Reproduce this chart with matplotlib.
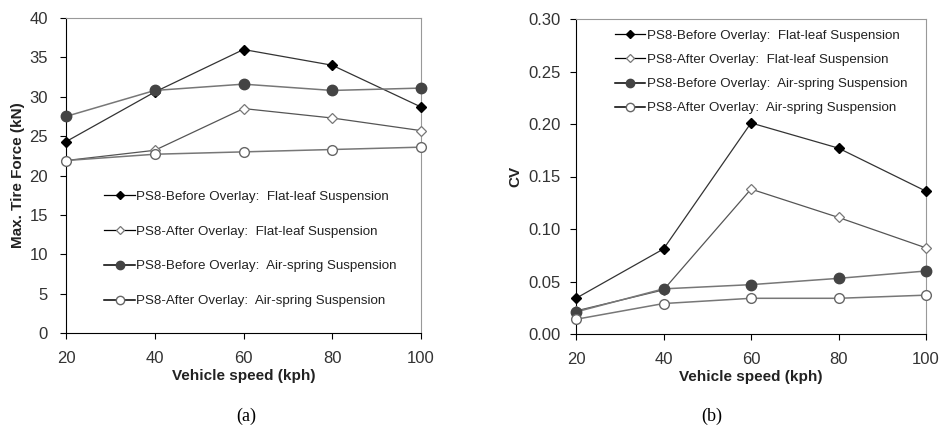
import matplotlib
matplotlib.use("Agg")
import matplotlib.pyplot as plt

plt.rcParams['font.family'] = ['Liberation Sans', 'DejaVu Sans']

speeds = [20, 40, 60, 80, 100]
labels = ["PS8-Before Overlay:  Flat-leaf Suspension",
          "PS8-After Overlay:  Flat-leaf Suspension",
          "PS8-Before Overlay:  Air-spring Suspension",
          "PS8-After Overlay:  Air-spring Suspension"]

force_flat_before = [24.3, 30.6, 36.0, 34.0, 28.7]
force_flat_after = [21.9, 23.2, 28.5, 27.3, 25.7]
force_air_before = [27.5, 30.8, 31.6, 30.8, 31.1]
force_air_after = [21.9, 22.7, 23.0, 23.3, 23.6]

cv_flat_before = [0.034, 0.081, 0.201, 0.177, 0.136]
cv_flat_after = [0.022, 0.042, 0.138, 0.111, 0.082]
cv_air_before = [0.021, 0.043, 0.047, 0.053, 0.060]
cv_air_after = [0.014, 0.029, 0.034, 0.034, 0.037]

styles = [
    dict(color='#333333', marker='D', markersize=5.5, markerfacecolor='black', markeredgecolor='black', lw=0.9),
    dict(color='#555555', marker='D', markersize=5.5, markerfacecolor='white', markeredgecolor='#777777', lw=0.9, markeredgewidth=0.9),
    dict(color='#777777', marker='o', markersize=7.5, markerfacecolor='#444444', markeredgecolor='#444444', lw=1.1),
    dict(color='#777777', marker='o', markersize=7, markerfacecolor='white', markeredgecolor='#666666', lw=1.1),
]

fig = plt.figure(figsize=(9.41, 4.29), dpi=100)
W, H = 941, 429
ax1 = fig.add_axes([66 / W, 1 - 333 / H, (421 - 66) / W, (333 - 18) / H])
ax2 = fig.add_axes([576 / W, 1 - 334 / H, (926 - 576) / W, (334 - 19) / H])

def style_ax(ax):
    ax.spines['top'].set_color('#999999')
    ax.spines['right'].set_color('#999999')
    ax.spines['left'].set_color('black')
    ax.spines['bottom'].set_color('black')
    ax.tick_params(direction='out', length=4, color='black', labelsize=12, labelcolor='#333333')
    ax.tick_params(axis='x', pad=9)
    ax.tick_params(axis='y', pad=9)
    ax.set_xlim(20, 100)
    ax.set_xticks(speeds)
    ax.set_xlabel('Vehicle speed (kph)', fontsize=11, fontweight='bold', color='#222222', labelpad=2)

def shrink_handles(leg):
    for h in leg.legend_handles:
        h.set_markersize(4.5 if h.get_marker() == 'D' else 6)
        h.set_color('black')

series1 = [force_flat_before, force_flat_after, force_air_before, force_air_after]
for s, st, lab in zip(series1, styles, labels):
    ax1.plot(speeds, s, label=lab, clip_on=False, zorder=3, **st)
style_ax(ax1)
ax1.set_ylim(0, 40)
ax1.set_yticks(range(0, 41, 5))
ax1.set_ylabel('Max. Tire Force (kN)', fontsize=11, fontweight='bold', color='#222222', labelpad=3)
leg1 = ax1.legend(loc='upper left', bbox_to_anchor=(0.074, 0.49), frameon=False, fontsize=9.6,
                  labelspacing=1.68, handlelength=2.3, handletextpad=0.1, labelcolor='#222222')
shrink_handles(leg1)

series2 = [cv_flat_before, cv_flat_after, cv_air_before, cv_air_after]
for s, st, lab in zip(series2, styles, labels):
    ax2.plot(speeds, s, label=lab, clip_on=False, zorder=3, **st)
style_ax(ax2)
ax2.tick_params(axis='y', pad=7)
ax2.set_ylim(0, 0.30)
ax2.set_yticks([0, 0.05, 0.10, 0.15, 0.20, 0.25, 0.30])
ax2.set_yticklabels(['0.00', '0.05', '0.10', '0.15', '0.20', '0.25', '0.30'])
ax2.set_ylabel('CV', fontsize=11, fontweight='bold', color='#222222', labelpad=4)
leg2 = ax2.legend(loc='upper left', bbox_to_anchor=(0.076, 1.004), frameon=False, fontsize=9.6,
                  labelspacing=0.88, handlelength=2.3, handletextpad=0.1, labelcolor='#222222')
shrink_handles(leg2)

fig.text(246 / W, 1 - 416 / H, '(a)', ha='center', va='center', fontsize=13, family='Liberation Serif')
fig.text(712 / W, 1 - 416 / H, '(b)', ha='center', va='center', fontsize=13, family='Liberation Serif')

fig.savefig('out.png', dpi=100)
